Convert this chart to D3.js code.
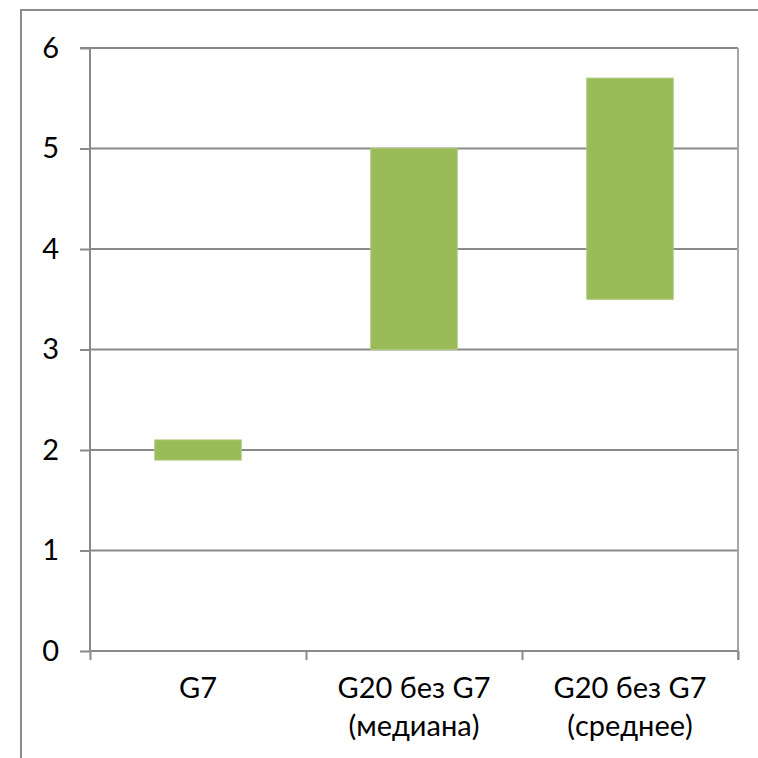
<!DOCTYPE html>
<html>
<head>
<meta charset="utf-8">
<script src="https://cdn.jsdelivr.net/npm/d3@7"></script>
<style>
  body { margin: 0; background: #fff; }
  svg { display: block; }
</style>
</head>
<body>
<div id="chart"></div>
<script>
/* -----------------    DATA     ------------------ */
const categories = [['G7'], ['G20 без G7', '(медиана)'], ['G20 без G7', '(среднее)']];
const lowValues = [1.9, 3.0, 3.5];
const highValues = [2.1, 5.0, 5.7];
const yTicks = [0, 1, 2, 3, 4, 5, 6];

/* -----------------    SETTINGS     ------------------ */
const settings = {
    width: 758,
    height: 758,
    left: 90,
    right: 738,
    top: 48,
    bottom: 651,
    barColor: '#9bbb59',
    gridColor: '#8a8a8a',
    frameColor: '#8c8c8c',
    font: 'Lato, "Open Sans", sans-serif',
    fontSize: '29px'
};

const svg = d3.select('#chart')
    .append('svg')
    .attr('width', settings.width)
    .attr('height', settings.height);

// Outer frame (cropped chart area)
svg.append('path')
    .attr('d', `M21,${settings.height} V10 H${settings.width}`)
    .attr('fill', 'none')
    .attr('stroke', settings.frameColor)
    .attr('stroke-width', 2);

// Scales
const xScale = d3.scaleBand()
    .domain(d3.range(categories.length))
    .range([settings.left, settings.right])
    .paddingInner(0)
    .paddingOuter(0);

const yScale = d3.scaleLinear()
    .domain([0, 6])
    .range([settings.bottom, settings.top]);

// Gridlines
svg.append('g')
    .selectAll('line')
    .data(yTicks.slice(1))
    .enter()
    .append('line')
    .attr('x1', settings.left)
    .attr('x2', settings.right)
    .attr('y1', d => yScale(d))
    .attr('y2', d => yScale(d))
    .attr('stroke', settings.gridColor)
    .attr('stroke-width', 2);

// Right plot border
svg.append('line')
    .attr('x1', settings.right)
    .attr('x2', settings.right)
    .attr('y1', settings.top)
    .attr('y2', settings.bottom + 9)
    .attr('stroke', '#a6a6a6')
    .attr('stroke-width', 2);

// Bars
svg.append('g')
    .selectAll('rect')
    .data(lowValues)
    .enter()
    .append('rect')
    .attr('x', (d, i) => xScale(i) + xScale.bandwidth() * 0.3)
    .attr('width', xScale.bandwidth() * 0.4)
    .attr('y', (d, i) => yScale(highValues[i]))
    .attr('height', (d, i) => yScale(d) - yScale(highValues[i]))
    .attr('fill', settings.barColor)
    .attr('stroke', '#a8c872')
    .attr('stroke-width', 1);

// Y axis
const yAxis = d3.axisLeft(yScale)
    .tickValues(yTicks)
    .tickSize(10)
    .tickPadding(21)
    .tickFormat(d3.format('d'));

const yG = svg.append('g')
    .attr('transform', `translate(${settings.left}, 0)`)
    .call(yAxis);

yG.select('.domain')
    .attr('stroke', settings.gridColor)
    .attr('stroke-width', 2)
    .attr('d', `M-10,${settings.top}H0V${settings.bottom}`);

yG.selectAll('.tick line')
    .attr('stroke', settings.gridColor)
    .attr('stroke-width', 2);

yG.selectAll('.tick text')
    .attr('fill', '#000')
    .style('font-family', settings.font)
    .style('font-size', settings.fontSize);

// X axis: ticks on category boundaries
const boundaries = d3.range(categories.length + 1);
const xEdge = d3.scaleLinear()
    .domain([0, categories.length])
    .range([settings.left, settings.right]);

const xAxis = d3.axisBottom(xEdge)
    .tickValues(boundaries)
    .tickSize(9)
    .tickFormat('');

const xG = svg.append('g')
    .attr('transform', `translate(0, ${settings.bottom})`)
    .call(xAxis);

xG.select('.domain')
    .attr('stroke', settings.gridColor)
    .attr('stroke-width', 2)
    .attr('d', `M${settings.left},0H${settings.right}`);

xG.selectAll('.tick line')
    .attr('stroke', settings.gridColor)
    .attr('stroke-width', 2);

// Category labels
const labels = svg.append('g')
    .selectAll('text')
    .data(categories)
    .enter()
    .append('text')
    .attr('x', (d, i) => xScale(i) + xScale.bandwidth() / 2)
    .attr('y', 698)
    .attr('text-anchor', 'middle')
    .style('font-family', settings.font)
    .style('font-size', settings.fontSize)
    .attr('fill', '#000');

labels.selectAll('tspan')
    .data(d => d)
    .enter()
    .append('tspan')
    .attr('x', function () { return d3.select(this.parentNode).attr('x'); })
    .attr('dy', (d, i) => i === 0 ? 0 : 38)
    .text(d => d);
</script>
</body>
</html>
